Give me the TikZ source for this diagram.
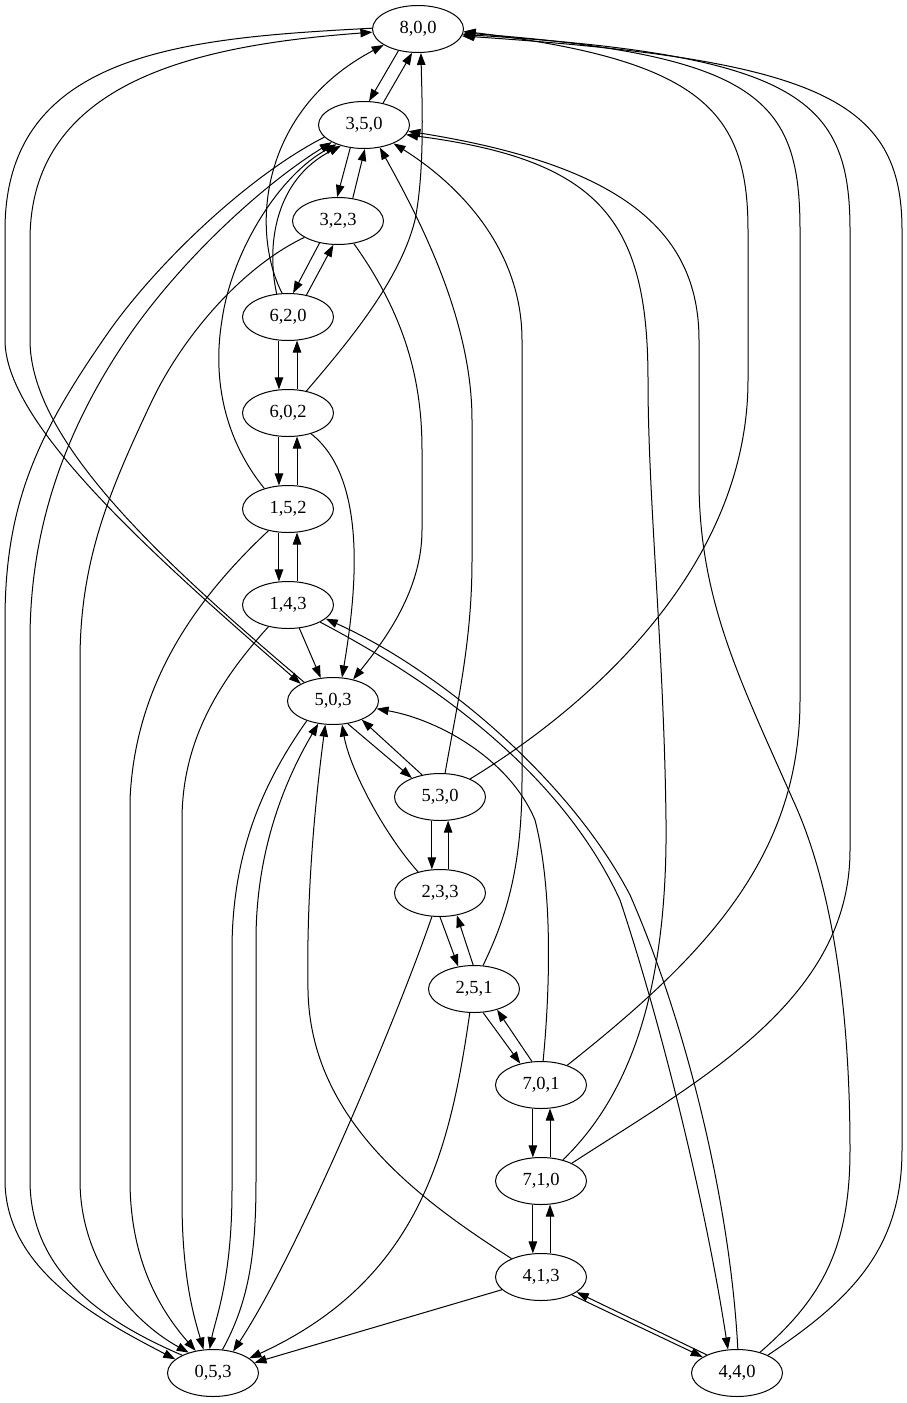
\documentclass[tikz,border=0pt]{standalone}
\usepackage{fontspec}
\setmainfont{Liberation Serif}
\usetikzlibrary{arrows.meta,shapes.geometric}
\begin{document}
\begin{tikzpicture}[x=1pt,y=-1pt,
  st/.style={ellipse,draw,line width=1pt,minimum width=91pt,minimum height=47pt,inner sep=0pt,font=\fontsize{18.5}{20}\selectfont},
  e/.style={line width=1pt,-{Triangle[length=12pt,width=8.5pt]}}]
\fill[white] (0,0) rectangle (907,1403);
\useasboundingbox (0,0) rectangle (907,1403);
% nodes
\node[st] (n800) at (418,29) {8,0,0};
\node[st] (n350) at (364,125) {3,5,0};
\node[st] (n323) at (338,221) {3,2,3};
\node[st] (n620) at (288,317) {6,2,0};
\node[st] (n602) at (288,413) {6,0,2};
\node[st] (n152) at (288,509) {1,5,2};
\node[st] (n143) at (288,605) {1,4,3};
\node[st] (n503) at (333,701) {5,0,3};
\node[st] (n530) at (440,797) {5,3,0};
\node[st] (n233) at (440,893) {2,3,3};
\node[st] (n251) at (474,989) {2,5,1};
\node[st] (n701) at (541,1085) {7,0,1};
\node[st] (n710) at (541,1181) {7,1,0};
\node[st] (n413) at (541,1277) {4,1,3};
\node[st] (n053) at (213,1373) {0,5,3};
\node[st] (n440) at (737,1373) {4,4,0};
% short pairs
\draw[e] (n800.228) -- (n350.78);
\draw[e] (n350.49) -- (n800.256);
\draw[e] (n350.239) -- (n323.92);
\draw[e] (n323.57) -- (n350.272);
\draw[e] (n323.230) -- (n620.78);
\draw[e] (n620.50) -- (n323.259);
\draw[e] (n620.249) -- (n602.111);
\draw[e] (n602.69) -- (n620.291);
\draw[e] (n602.249) -- (n152.111);
\draw[e] (n152.69) -- (n602.291);
\draw[e] (n152.249) -- (n143.111);
\draw[e] (n143.69) -- (n152.291);
\draw[e] (n143.296) -- (n503.118);
\draw[e] (n503.303) -- (n530.146);
\draw[e] (n530.129) -- (n503.327);
\draw[e] (n530.251) -- (n233.109);
\draw[e] (n233.71) -- (n530.289);
\draw[e] (n233.270) -- (n251.125);
\draw[e] (n251.92) -- (n233.307);
\draw[e] (n251.291) -- (n701.134);
\draw[e] (n701.111) -- (n251.318);
\draw[e] (n701.251) -- (n710.109);
\draw[e] (n710.69) -- (n701.291);
\draw[e] (n710.251) -- (n413.109);
\draw[e] (n413.69) -- (n710.291);
\draw[e] (n413.330) -- (n440.155);
\draw[e] (n440.149) -- (n413.337);
\draw[e] (n413.198) -- (n053.14);
% left long curves
\draw[e] (n800.179) .. controls (190,38) and (5,50) .. (5,230) -- (5,340) .. controls (5,420) and (137,542) .. (n503.152);
\draw[e] (n503.147) .. controls (160,560) and (30,440) .. (30,340) -- (30,240) .. controls (30,80) and (200,45) .. (n800.184);
\draw[e] (n350.197) .. controls (250,175) and (160,260) .. (110,330) .. controls (40,430) and (5,500) .. (5,620) -- (5,1180) .. controls (5,1270) and (100,1320) .. (n053.160);
\draw[e] (n053.150) .. controls (100,1320) and (30,1270) .. (30,1180) -- (30,640) .. controls (30,520) and (70,420) .. (133,330) .. controls (190,250) and (270,180) .. (n350.208);
\draw[e] (n323.206) .. controls (240,268) and (180,340) .. (150,405) .. controls (110,490) and (80,560) .. (80,660) -- (80,1180) .. controls (80,1260) and (130,1320) .. (n053.140);
\draw[e] (n152.228) .. controls (200,595) and (135,680) .. (130,800) -- (130,1180) .. controls (130,1260) and (160,1310) .. (n053.128);
\draw[e] (n143.228) .. controls (220,680) and (182,740) .. (182,820) -- (182,1200) .. controls (182,1280) and (195,1320) .. (n053.112);
\draw[e] (n503.217) .. controls (265,780) and (232,850) .. (232,950) -- (232,1190) .. controls (232,1280) and (215,1320) .. (n053.98);
\draw[e] (n053.68) .. controls (250,1300) and (256,1250) .. (256,1180) -- (256,940) .. controls (256,850) and (285,780) .. (n503.237);
\draw[e] (n413.148) .. controls (420,1200) and (310,1120) .. (308,990) .. controls (306,880) and (318,780) .. (n503.252);
\draw[e] (n233.136) .. controls (385,835) and (350,770) .. (n503.291);
\draw[e] (n233.251) .. controls (400,1010) and (300,1250) .. (n053.47);
\draw[e] (n251.260) .. controls (450,1150) and (420,1280) .. (n053.22);
% upper middle curves
\draw[e] (n620.104) .. controls (250,230) and (260,110) .. (n800.205);
\draw[e] (n620.116) .. controls (266,245) and (275,180) .. (n350.222);
\draw[e] (n152.139) .. controls (225,440) and (212,380) .. (222,320) .. controls (232,250) and (280,175) .. (n350.215);
\draw[e] (n602.50) .. controls (350,340) and (400,280) .. (415,220) .. controls (425,170) and (422,100) .. (n800.277);
\draw[e] (n602.318) .. controls (370,480) and (355,600) .. (n503.69);
\draw[e] (n323.305) .. controls (405,315) and (422,380) .. (422,450) -- (422,530) .. controls (422,590) and (385,640) .. (n503.47);
% right side curves
\draw[e] (n701.85) .. controls (550,990) and (553,890) .. (535,820) .. controls (510,760) and (440,720) .. (n503.350);
\draw[e] (n143.332) .. controls (430,680) and (560,770) .. (620,900) .. controls (660,1020) and (705,1200) .. (n440.111);
\draw[e] (n440.88) .. controls (730,1200) and (685,1020) .. (630,895) .. controls (570,780) and (440,670) .. (n143.340);
\draw[e] (n530.31) .. controls (600,700) and (748,560) .. (748,380) -- (748,230) .. controls (748,110) and (700,60) .. (n800.357);
\draw[e] (n701.37) .. controls (700,960) and (800,860) .. (800,700) -- (800,230) .. controls (800,100) and (760,55) .. (n800.355);
\draw[e] (n710.30) .. controls (700,1080) and (850,1000) .. (850,850) -- (850,230) .. controls (850,100) and (800,55) .. (n800.353);
\draw[e] (n440.30) .. controls (850,1300) and (902,1250) .. (902,1150) -- (902,230) .. controls (902,100) and (820,60) .. (n800.351);
\draw[e] (n440.42) .. controls (820,1300) and (850,1250) .. (850,1150) .. controls (850,1000) and (830,880) .. (793,800) .. controls (740,680) and (699,600) .. (699,480) -- (699,340) .. controls (699,230) and (620,165) .. (n350.352);
\draw[e] (n710.44) .. controls (625,1100) and (668,1000) .. (666,820) .. controls (664,650) and (648,500) .. (648,380) .. controls (648,220) and (600,160) .. (n350.347);
\draw[e] (n251.69) .. controls (505,920) and (522,870) .. (522,780) -- (522,340) .. controls (522,250) and (460,185) .. (n350.328);
\draw[e] (n530.78) .. controls (458,700) and (472,640) .. (472,560) -- (472,420) .. controls (472,320) and (420,220) .. (n350.305);
\end{tikzpicture}
\end{document}
